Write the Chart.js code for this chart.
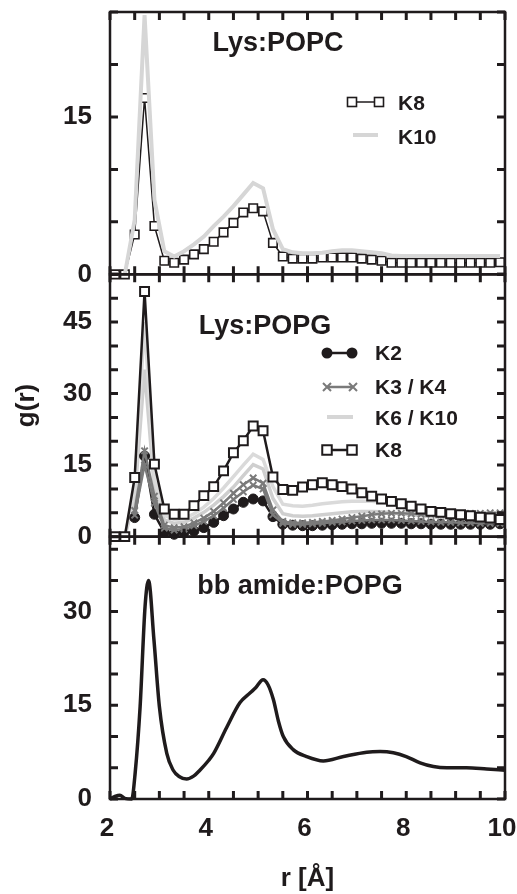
<!DOCTYPE html>
<html><head><meta charset="utf-8">
<script src="https://cdn.jsdelivr.net/npm/chart.js@4/dist/chart.umd.min.js"></script>
<style>html,body{margin:0;padding:0;background:#fff;}</style>
</head><body>
<canvas id="c" width="517" height="894" style="display:block;width:517px;height:894px"></canvas>
<script>
// ---- data ----
const rGrid = [2.1,2.3,2.5,2.7,2.9,3.1,3.3,3.5,3.7,3.9,4.1,4.3,4.5,4.7,4.9,5.1,5.3,5.5,5.7,5.9,6.1,6.3,6.5,6.7,6.9,7.1,7.3,7.5,7.7,7.9,8.1,8.3,8.5,8.7,8.9,9.1,9.3,9.5,9.7,9.9];
// Lys:POPC
const popcK8  = [0,0,3.8,16.8,4.6,1.3,1.1,1.4,1.9,2.4, 3.1,4.0,4.9,5.9,6.3,6.0,3.0,1.7,1.5,1.5, 1.5,1.6,1.6,1.6,1.6,1.5,1.4,1.3,1.1,1.1, 1.1,1.1,1.1,1.1,1.1,1.1,1.1,1.1,1.1,1.15];
const popcK10 = [null,0,5.2,24.7,7.1,2.2,1.7,2.2,2.85,3.6, 4.6,5.5,6.5,7.6,8.7,8.2,4.3,2.4,2.1,2.0, 2.0,2.05,2.2,2.3,2.3,2.2,2.1,2.0,1.8,1.75, 1.75,1.75,1.75,1.75,1.75,1.75,1.75,1.75,1.75,1.75];
// Lys:POPG
const popgK2  = [null,null,4.0,16.9,4.7,0.9,0.5,0.9,1.2,1.9, 3.0,4.4,5.8,7.2,7.9,7.5,4.2,2.6,2.4,2.3, 2.3,2.4,2.5,2.6,2.7,2.7,2.8,2.8,2.8,2.8, 2.7,2.7,2.6,2.6,2.6,2.6,2.6,2.6,2.6,2.7];
const popgK3  = [null,null,5.5,18,8.5,2.4,1.9,2.1,2.9,3.9, 5.3,7.1,9.1,10.9,12.3,11.2,5.6,3.2,2.9,2.9, 3.0,3.2,3.4,3.7,4.0,4.3,4.6,4.8,4.9,4.9, 4.8,4.7,4.7,4.7,4.8,4.8,4.9,4.9,5.0,5.0];
const popgK4  = [null,null,4.5,15,7.0,1.8,1.4,1.6,2.3,3.2, 4.4,6.0,7.8,9.4,10.8,10.0,4.6,2.8,2.6,2.6, 2.7,2.8,3.0,3.1,3.3,3.4,3.5,3.5,3.5,3.4, 3.3,3.2,3.1,3.0,3.0,2.9,2.9,2.8,2.8,2.8];
const popgK6  = [null,0,10,45,12,4.5,3.6,3.8,4.8,6.2, 8.0,10.2,12.6,15.0,17.3,16.2,10.5,6.8,6.5,6.4, 6.6,6.9,7.1,7.3,7.4,7.4,7.4,7.2,6.8,6.2, 5.6,5.1,4.7,4.4,4.2,4.0,3.9,3.7,3.6,3.5];
const popgK10 = [null,0,8,35,10,3.5,2.8,3.0,3.9,5.1, 6.6,8.4,10.4,12.8,15.1,14.2,8.0,4.8,4.4,4.3, 4.4,4.6,4.8,5.0,5.2,5.3,5.3,5.2,5.0,4.8, 4.6,4.4,4.2,4.0,3.9,3.8,3.7,3.6,3.5,3.4];
const popgK8  = [0,0,12.4,51.4,15.2,5.8,4.7,4.7,6.5,8.6, 10.5,13.8,17.6,20.1,23.2,22.2,12.5,9.9,9.7,10.4, 10.9,11.3,10.9,10.5,10.0,9.2,8.5,7.9,7.4,6.9, 6.4,5.8,5.3,5.1,4.8,4.6,4.4,4.1,3.9,3.6];
// bb amide:POPG
const amideR = [2.0,2.1,2.2,2.3,2.44,2.51,2.61,2.71,2.78,2.89,3.0,3.15,3.28,3.4,3.55,3.7,3.82,4.0,4.1,4.36,4.63,4.84,4.95,5.1,5.2,5.31,5.41,5.51,5.71,5.98,6.32,6.73,7.2,7.47,7.74,8.0,8.28,8.55,8.82,9.22,9.63,10.0];
const amideG = [0,0.4,0.6,0.1,0,4.2,14.8,30.8,35,25.5,14.8,7.3,4.6,3.6,3.2,3.7,4.6,6.2,7.3,11.4,15.4,17.0,17.8,19.1,18.3,15.9,12.5,10.0,7.9,6.8,6.1,6.8,7.5,7.6,7.4,6.8,5.8,5.2,5.0,5.0,4.8,4.6];
// axis ticks / labels
const xTickLabels = [2,4,6,8,10];
const yLabelStep = 15;
const panelTitles = ['Lys:POPC','Lys:POPG','bb amide:POPG'];

// ---- styling ----
const INK = '#1f1b1c';
const LIGHT = '#d6d6d6';
const MID = '#7a7a7a';
const FONT = '"Liberation Sans", Arial, Helvetica, sans-serif';

const pts = (xs, ys) => xs.map((x, i) => ({x: x, y: ys[i]}));

function yAxis(max, weight, extra) {
  return Object.assign({
    type: 'linear', position: 'left', stack: 'g', stackWeight: 1, weight: weight,
    min: 0, max: max,
    grid: {display: false, drawTicks: false}, border: {display: false},
    ticks: {stepSize: 5, autoSkip: false, padding: 18, color: INK,
      font: {family: FONT, size: 26, weight: 'bold'},
      callback: v => (v % yLabelStep === 0 ? String(v) : '')},
    afterFit: s => { s.width = 110; s.paddingTop = 0; s.paddingBottom = 0; }
  }, extra || {});
}

const framePlugin = {
  id: 'frame',
  afterDatasetsDraw(chart) {
    const ctx = chart.ctx, xs = chart.scales.x;
    const TL = 8;
    ctx.save();
    ctx.strokeStyle = INK;
    ctx.lineCap = 'butt';
    ['yTop','yMid','yBot'].forEach(id => {
      const ys = chart.scales[id];
      const L = xs.left, R = xs.right, T = ys.top, B = ys.bottom;
      ctx.lineWidth = 2.5;
      ctx.strokeRect(L, T, R - L, B - T);
      ctx.lineWidth = 3;
      ctx.beginPath();
      for (let k = 0; k <= 16; k++) {
        const px = xs.getPixelForValue(2 + k * 0.5);
        ctx.moveTo(px, T); ctx.lineTo(px, T + TL);
        ctx.moveTo(px, B); ctx.lineTo(px, B - TL);
      }
      for (let v = 0; v <= ys.max + 1e-6; v += 5) {
        const py = ys.getPixelForValue(v);
        ctx.moveTo(L, py); ctx.lineTo(L + TL, py);
        ctx.moveTo(R, py); ctx.lineTo(R - TL, py);
      }
      ctx.stroke();
    });

    // panel titles
    ctx.fillStyle = INK;
    ctx.textAlign = 'center';
    ctx.textBaseline = 'middle';
    ctx.font = 'bold 27px ' + FONT;
    ctx.fillText(panelTitles[0], 278, 44);
    ctx.fillText(panelTitles[1], 265, 327);
    ctx.fillText(panelTitles[2], 300, 587);

    // legends
    const square = (x, y, s, lw) => {
      ctx.lineWidth = lw; ctx.strokeStyle = INK; ctx.fillStyle = '#fff';
      ctx.fillRect(x - s/2, y - s/2, s, s); ctx.strokeRect(x - s/2, y - s/2, s, s);
    };
    const line = (x1, x2, y, col, lw) => {
      ctx.strokeStyle = col; ctx.lineWidth = lw;
      ctx.beginPath(); ctx.moveTo(x1, y); ctx.lineTo(x2, y); ctx.stroke();
    };
    const dot = (x, y, r) => { ctx.fillStyle = INK; ctx.beginPath(); ctx.arc(x, y, r, 0, Math.PI*2); ctx.fill(); };
    const cross = (x, y, r) => {
      ctx.strokeStyle = MID; ctx.lineWidth = 2; const d = r * 0.8;
      ctx.beginPath(); ctx.moveTo(x-d, y-d); ctx.lineTo(x+d, y+d); ctx.moveTo(x-d, y+d); ctx.lineTo(x+d, y-d); ctx.stroke();
    };
    const label = (t, x, y) => {
      ctx.fillStyle = INK; ctx.textAlign = 'left'; ctx.textBaseline = 'middle';
      ctx.font = 'bold 21px ' + FONT; ctx.fillText(t, x, y);
    };
    // top legend
    line(352, 379, 102, INK, 1.5); square(352, 102, 9, 1.6); square(379, 102, 9, 1.6);
    label('K8', 398, 104);
    line(353, 378, 135, LIGHT, 4);
    label('K10', 398, 138);
    // middle legend
    line(327, 352, 353, INK, 2.5); dot(327, 353, 5.5); dot(352, 353, 5.5);
    label('K2', 375, 354);
    line(327, 353, 387, MID, 2.5); cross(327, 387, 5); cross(353, 387, 5);
    label('K3 / K4', 375, 388);
    line(327, 353, 417, LIGHT, 4);
    label('K6 / K10', 375, 419);
    line(327, 352, 450, INK, 2.5); square(327, 450, 9.5, 2); square(352, 450, 9.5, 2);
    label('K8', 375, 451);
    ctx.restore();
  }
};

new Chart(document.getElementById('c'), {
  type: 'line',
  data: {
    datasets: [
      // top panel
      {label: 'K10', yAxisID: 'yTop', data: pts(rGrid, popcK10), borderColor: LIGHT, borderWidth: 4, pointRadius: 0, order: 1},
      {label: 'K8', yAxisID: 'yTop', data: pts(rGrid, popcK8), borderColor: INK, borderWidth: 1.5,
        pointStyle: 'rect', pointRadius: 6, pointBackgroundColor: '#fff', pointBorderColor: INK, pointBorderWidth: 1.6, order: 2},
      // middle panel
      {label: 'K8', yAxisID: 'yMid', data: pts(rGrid, popgK8), borderColor: INK, borderWidth: 2.5,
        pointStyle: 'rect', pointRadius: 6.3, pointBackgroundColor: '#fff', pointBorderColor: INK, pointBorderWidth: 2, order: 3},
      {label: 'K3', yAxisID: 'yMid', data: pts(rGrid, popgK3), borderColor: MID, borderWidth: 2.5,
        pointStyle: 'crossRot', pointRadius: 4.5, pointBorderColor: MID, pointBorderWidth: 2, order: 4},
      {label: 'K4', yAxisID: 'yMid', data: pts(rGrid, popgK4), borderColor: MID, borderWidth: 2.5,
        pointStyle: 'crossRot', pointRadius: 4.5, pointBorderColor: MID, pointBorderWidth: 2, order: 5},
      {label: 'K2', yAxisID: 'yMid', data: pts(rGrid, popgK2), borderColor: INK, borderWidth: 2.5,
        pointStyle: 'circle', pointRadius: 5, pointBackgroundColor: INK, pointBorderColor: INK, pointBorderWidth: 1, order: 6},
      {label: 'K6', yAxisID: 'yMid', data: pts(rGrid, popgK6), borderColor: '#dadada', borderWidth: 3.5, pointRadius: 0, order: 7},
      {label: 'K10', yAxisID: 'yMid', data: pts(rGrid, popgK10), borderColor: '#cfcfcf', borderWidth: 3.5, pointRadius: 0, order: 8},
      // bottom panel
      {label: 'amide', yAxisID: 'yBot', data: pts(amideR, amideG), borderColor: INK, borderWidth: 3.5, pointRadius: 0,
        cubicInterpolationMode: 'monotone', order: 9}
    ]
  },
  options: {
    responsive: false, animation: false, events: [],
    clip: false,
    layout: {padding: {left: 0, right: 12, top: 12, bottom: 0}},
    plugins: {legend: {display: false}, tooltip: {enabled: false}},
    elements: {line: {fill: false, tension: 0}},
    scales: {
      x: {type: 'linear', position: 'bottom', min: 2, max: 10,
        grid: {display: false, drawTicks: false}, border: {display: false},
        afterBuildTicks: s => { s.ticks = xTickLabels.map(v => ({value: v})); },
        ticks: {padding: 14, labelOffset: -3, color: INK, font: {family: FONT, size: 26, weight: 'bold'}},
        title: {display: true, text: 'r [Å]', color: INK, padding: {top: 0, bottom: 0}, font: {family: FONT, size: 26, weight: 'bold'}},
        afterFit: s => { s.height = 95; s.paddingLeft = 0; s.paddingRight = 0; }
      },
      yBot: yAxis(42, 1),
      yMid: yAxis(55, 2, {title: {display: true, text: 'g(r)', color: INK, padding: {top: 11, bottom: 0}, font: {family: FONT, size: 26, weight: 'bold'}}}),
      yTop: yAxis(25, 3)
    }
  },
  plugins: [framePlugin]
});
</script>
</body></html>
